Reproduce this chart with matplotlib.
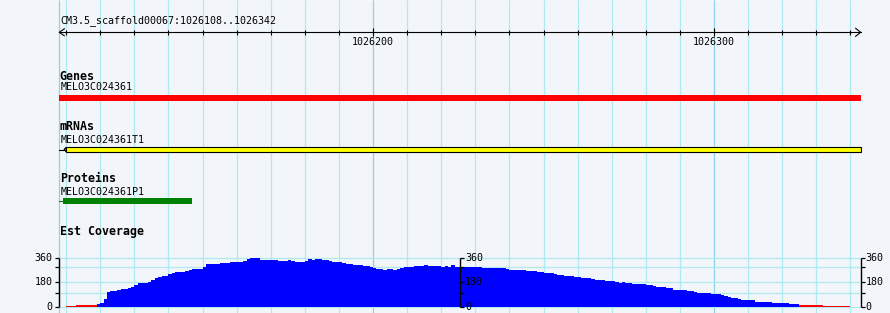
import numpy as np
import matplotlib.pyplot as plt

# region shown
ref_name = "CM3.5_scaffold00067"
start, end = 1026108, 1026342

# features (start, end) in bp
gene_name = "MELO3C024361"
gene = (1026108, 1026342)
mrna_name = "MELO3C024361T1"
mrna = (1026110, 1026342)
prot_name = "MELO3C024361P1"
prot = (1026109, 1026146)

# EST coverage, one value per base starting at cov_start
cov_start = 1026110
cov = np.array([
    7, 7, 7, 12, 12, 12, 12, 12, 12,
    20, 25, 55, 107, 114, 114, 122, 129, 129, 136, 146, 159,
    174, 174, 174, 181, 196, 211, 221, 226, 226, 238, 248, 255, 255, 255, 263, 270, 278, 280, 280,
    295, 315, 315, 315, 315, 325, 320, 320, 330, 330, 330, 330, 337, 352, 360, 360, 360,
    347, 347, 347, 347, 347, 340, 340, 340, 345, 340, 332, 332, 332, 340, 352, 347, 352, 352, 345, 345, 335, 332,
    330, 327, 325, 317, 317, 307, 307, 307, 300, 300, 293, 288, 280, 280, 270, 275, 275, 268, 275, 285, 293,
    295, 295, 300, 302, 302, 307, 300, 298, 298, 298, 295, 302, 295, 305, 295, 295, 295, 295, 295, 295,
    293, 290, 288, 288, 288, 288, 288, 288, 285, 280, 273, 273, 273, 273, 268, 265, 265, 262, 255, 255,
    250, 248, 245, 240, 235, 233, 230, 226, 226, 220, 218, 215, 213, 208, 206, 200, 196, 193, 186, 186, 186,
    181, 176, 181, 174, 174, 166, 166, 166, 166, 161, 161, 154, 144, 144, 144, 136, 136, 124, 122, 122, 122,
    114, 114, 107, 97, 97, 97, 97, 92, 92, 92, 87, 79, 72, 64, 64, 57, 47, 47, 47, 47,
    37, 37, 37, 32, 32, 25, 25, 25, 25, 25, 17, 17, 17, 12, 12, 12, 12, 12, 12, 12, 5, 5, 5, 5, 5, 5, 5, 5,
])
cov_max = 360
cov_labels = [0, 180, 360]
cov_minor = [98, 295]
low_cut = 15

W, H = 890, 313
ppb = 3.41          # pixels per base
left_px = 59.3
x0 = start - left_px / ppb
x1 = x0 + W / ppb

bg = "#f2f5fa"
grid_c = "#aeeaf0"
grid_major = "#8fd2ea"
mono = "DejaVu Sans Mono"
small = dict(family=mono, fontsize=7.2, color="black")
bold = dict(family=mono, fontsize=8.4, fontweight="bold", color="black")

fig = plt.figure(figsize=(W / 100, H / 100), dpi=100)
fig.patch.set_facecolor(bg)
ax = fig.add_axes([0, 0, 1, 1])
ax.set_xlim(x0, x1)
ax.set_ylim(H, 0)
ax.axis("off")


def px(p):
    # pixel offset -> bp width
    return p / ppb


# vertical grid
ticks10 = np.arange((start // 10 + 1) * 10, end + 1, 10)
major = ticks10[ticks10 % 100 == 0]
minor = ticks10[ticks10 % 100 != 0]
ax.vlines(minor, 0, H, color=grid_c, lw=0.9, zorder=0)
ax.vlines(major, 0, H, color=grid_major, lw=0.9, zorder=0)
ax.vlines(start, 0, H, color=grid_major, lw=0.9, zorder=0)

# ruler
ry = 32.3
ax.plot([start, end + 1], [ry, ry], color="black", lw=0.8)
ax.vlines(minor, ry - 2.2, ry + 2.2, color="black", lw=0.8)
ax.vlines(major, ry - 4, ry + 4, color="black", lw=0.8)
ax.plot([start + px(5), start, start + px(5)], [ry - 3.5, ry, ry + 3.5], color="black", lw=0.8)
ax.plot([end + 1 - px(5), end + 1, end + 1 - px(5)], [ry - 4, ry, ry + 4], color="black", lw=0.8)
for m in major:
    ax.text(m, 42, str(m), ha="center", va="center", **small)
ax.text(start + px(1.5), 21, f"{ref_name}:{start}..{end}", ha="left", va="center", **small)

# Genes track
ax.text(start + px(0.5), 76, "Genes", ha="left", va="center", **bold)
ax.text(start + px(1.5), 87.5, gene_name, ha="left", va="center", **small)
ax.barh(98, gene[1] + 1 - gene[0], left=gene[0], height=5.5, color="#ff0000", lw=0)

# mRNAs track
ax.text(start + px(0.5), 127, "mRNAs", ha="left", va="center", **bold)
ax.text(start + px(1.5), 140, mrna_name, ha="left", va="center", **small)
ax.plot([gene[0], mrna[0]], [149.5, 149.5], color="black", lw=0.8)
ax.barh(149.5, mrna[1] + 1 - mrna[0], left=mrna[0], height=4.4,
        color="#ffff00", edgecolor="black", lw=0.8)
ax.fill([mrna[0], mrna[0] - px(2), mrna[0]], [147.3, 149.5, 151.7],
        facecolor="#ffff00", edgecolor="black", lw=0.8)

# Proteins track
ax.text(start + px(0.5), 179, "Proteins", ha="left", va="center", **bold)
ax.text(start + px(1.5), 192, prot_name, ha="left", va="center", **small)
ax.plot([gene[0], prot[0]], [200.7, 200.7], color="#008000", lw=0.8)
ax.barh(200.8, prot[1] + 1 - prot[0], left=prot[0], height=6.3, color="#008000", lw=0)

# Est Coverage track
ax.text(start + px(0.5), 231, "Est Coverage", ha="left", va="center", **bold)

y_base, y_top = 306.5, 258.0
ax2 = fig.add_axes([0, (H - y_base) / H, 1, (y_base - y_top) / H])
ax2.set_xlim(x0, x1)
ax2.set_ylim(0, cov_max)
ax2.axis("off")
ax2.patch.set_alpha(0)

axes_x = [start, (start + end + 1) / 2, end + 1]
ax2.hlines(cov_labels + cov_minor, start, end + 1, color=grid_c, lw=0.9, zorder=0, clip_on=False)

edges = np.arange(cov_start, cov_start + len(cov) + 1)
low = cov < low_cut
ax2.stairs(np.where(low, 0, cov), edges, fill=True, color="#0000ff", lw=0, zorder=2)
ax2.stairs(np.where(low, cov, 0), edges, fill=True, color="#ff0000", lw=0, zorder=2)

tl = px(4)
for i, xa in enumerate(axes_x):
    ax2.vlines(xa, 0, cov_max, color="black", lw=1.0, zorder=3, clip_on=False)
    if i == 0:
        ax2.hlines(cov_labels + cov_minor, xa - tl, xa, color="black", lw=0.9, zorder=3, clip_on=False)
        for v in cov_labels:
            ax2.text(xa - px(7), v, str(v), ha="right", va="center", zorder=4, **small)
    else:
        ax2.hlines(cov_labels + cov_minor, xa, xa + tl, color="black", lw=0.9, zorder=3, clip_on=False)
        for v in cov_labels:
            ax2.text(xa + px(5), v, str(v), ha="left", va="center", zorder=4, **small)

fig.savefig("out.png", dpi=100, facecolor=bg)
